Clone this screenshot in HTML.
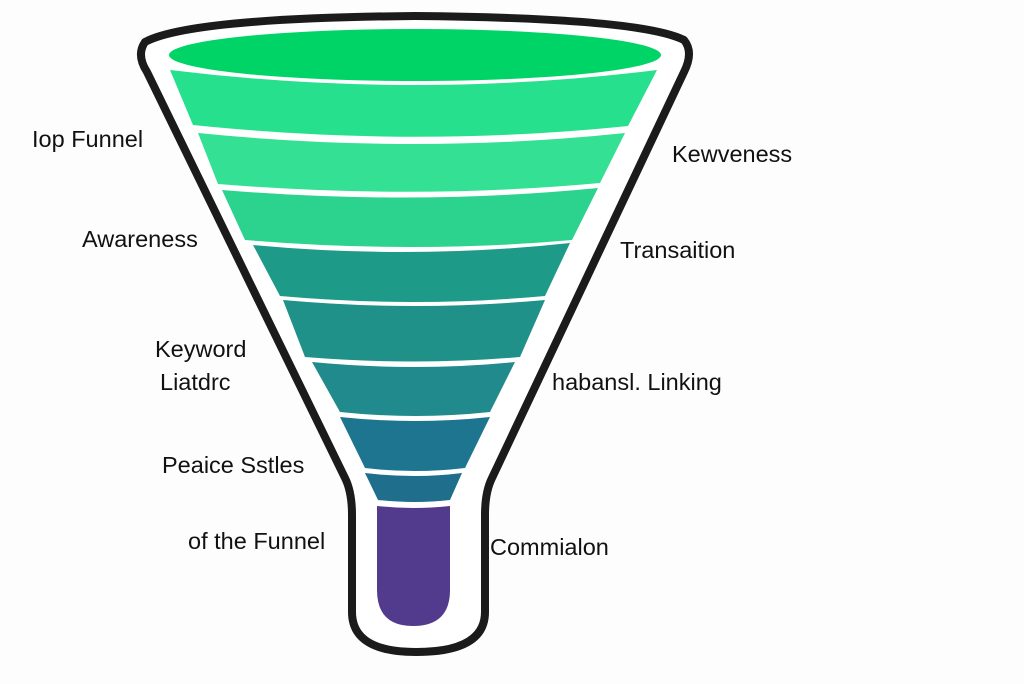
<!DOCTYPE html>
<html><head><meta charset="utf-8"><style>
html,body{margin:0;padding:0;background:#fff;width:1024px;height:684px;overflow:hidden}
svg{display:block}
text{font-family:"Liberation Sans",sans-serif;font-size:23.5px;fill:#111}
</style></head><body>
<svg width="1024" height="684" viewBox="0 0 1024 684">
<rect width="1024" height="684" fill="#fdfdfd"/>
<path d="M147,72 Q136,55 145,42 Q190,18 415,16 Q640,18 684,40 Q694,52 684,72 L492,478 Q485,492 485,515 L485,612 Q485,652 416,652 Q352,652 352,612 L352,515 Q352,492 345,478 Z" fill="#fff" stroke="#1b1b1b" stroke-width="8" stroke-linejoin="round"/>
<ellipse cx="415" cy="55" rx="246" ry="26" fill="#00d466"/>
<path d="M170,70 Q415,100 657,70 L628,126 Q415,148 193,125 Z" fill="#27e08e"/>
<path d="M198,133 Q415,155 625,133 L600,183 Q415,200 218,184 Z" fill="#33e094"/>
<path d="M222,190 Q415,206 598,188 L572,240 Q415,254 245,240 Z" fill="#2bd38e"/>
<path d="M253,245 Q415,260 570,243 L545,296 Q415,308 280,296 Z" fill="#1e9a88"/>
<path d="M283,300 Q415,312 545,300 L520,357 Q415,366 305,357 Z" fill="#1f9188"/>
<path d="M312,362 Q415,372 515,362 L490,412 Q415,420 340,412 Z" fill="#208a8c"/>
<path d="M340,417 Q415,425 490,417 L465,468 Q415,474 365,468 Z" fill="#1e7590"/>
<path d="M365,473 Q415,479 462,473 L450,500 Q415,504 378,500 Z" fill="#1e6e8c"/>
<path d="M377,506 Q413,510 450,506 L450,590 Q450,626 413,626 Q377,626 377,590 Z" fill="#523a8c"/>
<text x="32" y="147">Iop Funnel</text>
<text x="82" y="247">Awareness</text>
<text x="155" y="357">Keyword</text>
<text x="160" y="390">Liatdrc</text>
<text x="162" y="473">Peaice Sstles</text>
<text x="188" y="549">of the Funnel</text>
<text x="672" y="162">Kewveness</text>
<text x="620" y="258">Transaition</text>
<text x="552" y="390">habansl.  Linking</text>
<text x="490" y="555">Commialon</text>
</svg>
</body></html>
